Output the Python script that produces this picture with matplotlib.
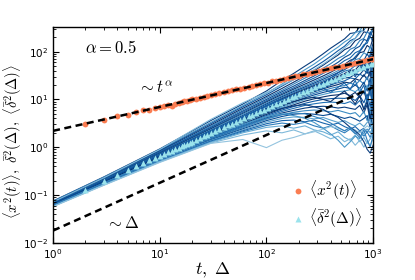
import numpy as np
import matplotlib
matplotlib.use("Agg")
import matplotlib.pyplot as plt

plt.rcParams['mathtext.fontset'] = 'cm'
plt.rcParams['font.family'] = ['DejaVu Sans']

# ---- data ----
t_pts = [2, 3, 4, 5, 6, 7, 8, 9, 10, 11, 12, 13, 14, 15, 16, 17, 18, 19, 20,
         22, 24, 26, 28, 30, 33, 36, 40, 44, 48, 52, 57, 62, 68, 74, 80, 87, 95,
         103, 112, 122, 133, 145, 158, 172, 187, 204, 222, 242, 264, 288, 314,
         342, 373, 406, 442, 482, 525, 572, 623, 679, 740, 806, 878, 957, 1000]

msd = [3.1, 3.8, 4.5, 4.8, 5.5, 5.9, 6.1, 6.7, 7.1, 7.4, 7.5, 7.3, 8.0, 8.6,
       8.9, 9.3, 9.4, 9.8, 10.1, 10.4, 10.9, 11.5, 11.9, 12.3, 12.8, 13.5, 14.1,
       14.9, 15.4, 16.2, 16.9, 17.5, 18.5, 19.1, 19.9, 20.8, 21.9, 22.6, 23.8,
       24.6, 25.9, 26.8, 28.2, 29.1, 30.5, 31.6, 33.4, 34.6, 36.3, 37.6, 39.6,
       41.1, 43.2, 44.8, 47.0, 48.7, 51.2, 53.0, 55.6, 57.9, 60.6, 63.0, 66.1,
       68.8, 70.5]

eatamsd = [0.13, 0.20, 0.265, 0.33, 0.40, 0.46, 0.53, 0.59, 0.66, 0.72, 0.79,
           0.85, 0.92, 0.98, 1.05, 1.11, 1.18, 1.24, 1.31, 1.44, 1.57, 1.70,
           1.83, 1.96, 2.15, 2.35, 2.61, 2.87, 3.13, 3.39, 3.71, 4.03, 4.42,
           4.80, 5.19, 5.64, 6.15, 6.66, 7.23, 7.86, 8.56, 9.32, 10.1, 11.0,
           11.9, 13.0, 14.1, 15.3, 16.7, 18.1, 19.7, 21.4, 23.3, 25.3, 27.4,
           29.8, 32.3, 35.0, 37.9, 41.0, 44.4, 48.0, 51.8, 56.0, 58.5]

delta_grid = [1, 3, 10, 30, 60, 100, 140, 180, 230, 280, 340, 400, 470, 540,
              610, 680, 750, 820, 880, 940, 1000]

tamsd_curves = [
    [0.075, 0.24, 0.92, 3.6, 8.0, 15, 25, 35, 50, 66, 90, 118, 150, 185, 240, 250, 330, 360, 470, 420, 560],
    [0.074, 0.235, 0.88, 3.3, 7.4, 13.5, 21, 30, 42, 55, 75, 98, 125, 160, 190, 250, 270, 380, 330, 450, 500],
    [0.073, 0.23, 0.85, 3.1, 7.0, 12.5, 19, 26, 36, 47, 62, 80, 105, 130, 170, 190, 260, 280, 380, 340, 440],
    [0.072, 0.225, 0.82, 2.9, 6.5, 11.5, 17, 23, 31, 40, 52, 67, 85, 110, 125, 170, 190, 260, 250, 370, 300],
    [0.071, 0.22, 0.80, 2.75, 6.1, 10.8, 15.5, 21, 28, 35, 45, 56, 72, 85, 112, 125, 170, 190, 260, 230, 340],
    [0.070, 0.217, 0.78, 2.6, 5.7, 10, 14.5, 19, 25, 31, 39, 48, 60, 76, 88, 115, 130, 180, 170, 260, 200],
    [0.070, 0.213, 0.76, 2.5, 5.4, 9.4, 13.5, 17.5, 23, 28, 35, 42, 52, 65, 74, 95, 105, 140, 150, 210, 160],
    [0.069, 0.21, 0.74, 2.4, 5.1, 8.9, 12.7, 16.4, 21, 25.5, 31, 37, 45, 54, 66, 72, 95, 100, 135, 120, 200],
    [0.069, 0.207, 0.72, 2.3, 4.9, 8.4, 12, 15.4, 19.5, 23.5, 28.5, 33.5, 40, 48, 53, 68, 72, 95, 85, 130, 90],
    [0.068, 0.204, 0.71, 2.22, 4.6, 8.0, 11.4, 14.6, 18.3, 22, 26.5, 31, 36.5, 42, 50, 53, 68, 65, 90, 70, 120],
    [0.068, 0.202, 0.69, 2.15, 4.4, 7.6, 10.8, 13.8, 17.3, 20.7, 24.6, 28.5, 33, 39, 42, 51, 50, 66, 60, 85, 45],
    [0.067, 0.20, 0.68, 2.08, 4.25, 7.3, 10.3, 13.1, 16.4, 19.5, 23, 26.5, 30.5, 35, 40, 42, 52, 50, 68, 55, 90],
    [0.067, 0.198, 0.67, 2.02, 4.1, 7.0, 9.8, 12.5, 15.6, 18.5, 21.8, 25, 28.5, 33, 34, 42, 40, 55, 45, 70, 30],
    [0.066, 0.196, 0.66, 1.97, 3.95, 6.7, 9.4, 11.9, 14.8, 17.5, 20.5, 23.5, 26.5, 30, 34, 35, 43, 40, 58, 42, 66],
    [0.066, 0.194, 0.65, 1.92, 3.8, 6.4, 9.0, 11.3, 14, 16.5, 19.2, 22, 24.5, 28, 29, 34, 33, 42, 35, 55, 20],
    [0.065, 0.192, 0.64, 1.87, 3.68, 6.1, 8.5, 10.7, 13.2, 15.5, 18, 20.3, 22.5, 24.5, 28, 27, 34, 30, 42, 30, 52],
    [0.065, 0.19, 0.63, 1.82, 3.55, 5.85, 8.1, 10.1, 12.4, 14.5, 16.7, 18.6, 20.5, 23, 22, 27, 25, 33, 26, 40, 14],
    [0.064, 0.188, 0.62, 1.77, 3.42, 5.6, 7.6, 9.5, 11.6, 13.4, 15.3, 17, 18.5, 19.5, 22, 20, 25, 21, 30, 18, 38],
    [0.064, 0.186, 0.61, 1.72, 3.3, 5.35, 7.2, 8.9, 10.8, 12.4, 14, 15.3, 16.5, 18, 17, 20, 17, 23, 15, 28, 9],
    [0.063, 0.184, 0.60, 1.67, 3.18, 5.1, 6.8, 8.3, 10, 11.4, 12.7, 13.8, 14.6, 15, 16, 14.5, 17, 13, 20, 12, 27],
    [0.063, 0.182, 0.59, 1.62, 3.05, 4.85, 6.4, 7.7, 9.2, 10.3, 11.3, 12.1, 12.5, 13.5, 12, 14, 11, 15, 9, 18, 6],
    [0.062, 0.18, 0.58, 1.58, 2.93, 4.6, 6.0, 7.1, 8.3, 9.2, 10, 10.4, 10.6, 10.5, 11, 9.5, 12, 8.5, 13, 7, 17],
    [0.062, 0.178, 0.57, 1.54, 2.8, 4.35, 5.6, 6.5, 7.5, 8.1, 8.6, 8.8, 8.6, 8.2, 9.0, 7.6, 9.5, 6.5, 10, 5, 13],
    [0.061, 0.176, 0.56, 1.5, 2.68, 4.1, 5.2, 5.9, 6.6, 7.0, 7.2, 7.0, 6.6, 6.9, 6.5, 6.2, 7.5, 5.2, 7.8, 3.5, 10],
    [0.061, 0.174, 0.55, 1.46, 2.55, 3.85, 4.8, 5.4, 5.8, 6.0, 5.8, 5.5, 5.9, 5.4, 5.0, 5.3, 4.3, 5.6, 3.6, 6.5, 2.5],
    [0.060, 0.172, 0.54, 1.42, 2.42, 3.6, 4.4, 4.9, 5.1, 4.9, 4.6, 4.9, 4.4, 4.0, 4.3, 3.9, 3.5, 4.0, 4.6, 2.5, 5.5],
    [0.060, 0.17, 0.53, 1.38, 2.3, 3.35, 4.0, 4.3, 4.2, 3.9, 4.2, 3.7, 3.3, 3.6, 3.1, 2.8, 3.2, 2.7, 3.3, 3.8, 1.6],
    [0.059, 0.168, 0.52, 1.34, 2.2, 3.1, 3.6, 3.7, 3.4, 3.7, 3.2, 2.9, 3.2, 2.7, 2.4, 2.7, 2.2, 2.5, 2.0, 2.6, 3.2],
    [0.059, 0.166, 0.51, 1.3, 2.1, 2.85, 3.2, 3.0, 3.3, 2.8, 2.5, 2.8, 2.3, 2.0, 2.4, 1.9, 2.2, 1.7, 2.1, 1.6, 2.4],
    [0.058, 0.164, 0.50, 1.26, 2.0, 2.6, 2.8, 2.5, 2.8, 2.3, 2.1, 1.8, 2.1, 1.6, 1.4, 1.8, 1.3, 1.6, 1.2, 1.5, 1.9],
    [0.058, 0.162, 0.49, 1.22, 1.8, 2.2, 2.0, 2.3, 1.9, 2.2, 1.8, 1.5, 1.7, 1.3, 1.5, 1.1, 1.4, 1.0, 1.3, 1.1, 1.5],
    [0.057, 0.16, 0.48, 1.2, 1.45, 0.98, 1.4, 1.6, 1.9, 2.1, 2.4, 2.7, 2.5, 2.2, 2.6, 2.3, 2.0, 2.4, 2.8, 2.5, 3.0],
    [0.065, 0.19, 0.62, 1.8, 3.4, 5.2, 6.5, 7.3, 7.8, 7.0, 6.2, 5.0, 4.2, 3.3, 2.6, 2.2, 1.8, 1.3, 0.9, 0.75, 1.1],
    [0.063, 0.185, 0.60, 1.7, 3.0, 4.4, 5.0, 4.6, 4.0, 3.3, 2.5, 1.9, 1.4, 1.0, 1.3, 1.7, 1.5, 2.0, 2.4, 2.0, 2.6],
    [0.072, 0.23, 0.90, 3.8, 8.5, 14, 20, 26, 33, 42, 55, 70, 92, 120, 150, 190, 240, 300, 360, 420, 480],
    [0.066, 0.195, 0.65, 1.9, 3.7, 6.0, 8.2, 10.5, 13.5, 17, 22, 28, 36, 46, 60, 78, 100, 130, 170, 220, 280],
    [0.064, 0.19, 0.63, 1.85, 3.6, 5.9, 7.5, 9.0, 10.5, 11, 10, 9, 12, 15, 11, 8, 12, 6, 9, 4, 7],
    [0.067, 0.20, 0.69, 2.1, 4.3, 7.4, 10, 12, 14, 15, 17, 14, 18, 22, 16, 25, 14, 20, 9, 15, 6],
    [0.066, 0.197, 0.66, 1.95, 3.9, 6.5, 8.8, 10.8, 13, 15, 17, 20, 24, 30, 38, 30, 45, 60, 40, 90, 150],
    [0.062, 0.18, 0.57, 1.55, 2.7, 4.0, 4.8, 5.2, 5.0, 4.4, 3.8, 3.2, 2.6, 2.2, 2.6, 2.0, 1.6, 2.3, 1.4, 1.0, 1.8],
]

# guide lines ~ t^alpha and ~ Delta (endpoints)
guide_x = [1, 1000]
guide_talpha = [2.2, 69.6]
guide_delta = [0.018, 18.0]

# ---- style (not data) ----
shades = [0.95, 0.6, 0.85, 1.0, 0.7, 0.9, 0.8, 1.0, 0.65, 0.92, 0.75, 1.0,
          0.85, 0.55, 0.95, 0.8, 1.0, 0.7, 0.9, 0.6, 1.0, 0.85, 0.75, 0.95,
          0.65, 0.9, 0.55, 0.8, 0.7, 0.5, 0.45, 0.4, 0.95, 0.6, 0.45, 0.85,
          1.0, 0.8, 0.9, 0.7]

fig = plt.figure(figsize=(4.15, 2.8), dpi=100)
ax = fig.add_axes([0.128, 0.133, 0.771, 0.771])

for curve, s in zip(tamsd_curves, shades):
    ax.plot(delta_grid, curve, color=plt.cm.Blues(s), lw=0.8, zorder=1)

ax.plot(t_pts, eatamsd, linestyle='none', marker='^', ms=3.8, color='#9ae3ec',
        mec='none', zorder=3, label=r'$\langle\bar{\delta}^2(\Delta)\rangle$')
ax.plot(t_pts, msd, linestyle='none', marker='o', ms=4.2, color='#fa7d52',
        mec='none', zorder=3, label=r'$\langle x^2(t)\rangle$')

ax.plot(guide_x, guide_talpha, color='black', lw=1.8, dashes=(2.8, 1.8), zorder=4)
ax.plot(guide_x, guide_delta, color='black', lw=1.8, dashes=(2.8, 1.8), zorder=4)

ax.set_xscale('log')
ax.set_yscale('log')
ax.set_xlim(1, 1000)
ax.set_ylim(0.01, 330)

ax.tick_params(which='both', direction='in', top=True, right=True, labelsize=7.5)
ax.tick_params(which='major', length=4, width=0.8)
ax.tick_params(which='minor', length=2, width=0.6)
for sp in ax.spines.values():
    sp.set_linewidth(1.0)

ax.text(2.0, 120, r'$\alpha=0.5$', fontsize=12, va='center')
ax.text(6.2, 17, r'$\sim t^{\alpha}$', fontsize=12, va='center')
ax.text(3.1, 0.026, r'$\sim\Delta$', fontsize=12, va='center')

ax.set_xlabel(r'$t,\ \Delta$', fontsize=13, labelpad=0)
ax.set_ylabel(r'$\langle x^2(t)\rangle,\ \bar{\delta}^2(\Delta),\ \langle\bar{\delta}^2(\Delta)\rangle$',
              fontsize=10.5)
ax.yaxis.set_label_coords(-0.092, 0.47)

h, l = ax.get_legend_handles_labels()
ax.legend(h[::-1], l[::-1], loc='lower right', frameon=False, fontsize=11,
          handlelength=0.8, handletextpad=0.3, borderaxespad=0.3,
          labelspacing=0.3, bbox_to_anchor=(1.0, 0.01))

fig.savefig('out.png', dpi=100)
